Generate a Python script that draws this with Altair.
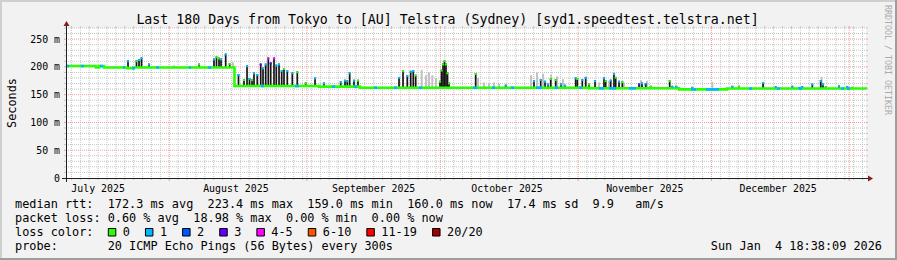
import altair as alt
import numpy as np
import pandas as pd

# ---------------- data ----------------
START = "2025-07-08 18:38:09"
END = "2026-01-04 18:38:09"

# median rtt (ms), step changes: day offset from START -> value
med_day = [0.0, 6.75, 7.43, 8.55, 13.73, 15.08, 37.91, 56.93, 66.15, 117.68, 137.93, 148.73, 180.0]
med_ms = [201.5, 199.0, 201.5, 199.0, 197.5, 199.0, 165.5, 164.5, 162.5, 161.5, 159.5, 161.0, 160.0]

# dark smoke spikes: day offset, top (ms), loss level index of the median at the top
spike_day = [13.95, 15.86, 16.43, 16.99, 18.68, 29.93, 33.3, 33.86, 34.43, 34.88, 35.93, 36.83,
             38.81, 40.05, 40.73, 41.29, 41.85, 42.3, 43.04, 43.81, 44.33, 44.93, 45.52, 46.06,
             46.8, 47.32, 47.93, 48.53, 49.05, 49.79, 50.92, 52.04, 53.93, 56.03, 58.05,
             61.81, 62.78, 63.29, 63.83, 64.8, 65.7,
             74.93, 75.83, 76.79, 77.56, 78.14, 78.68,
             84.15, 84.49, 84.83, 85.16, 85.5, 85.84, 86.18,
             92.18, 98.93, 105.3, 106.81, 107.78, 108.45, 109.06, 110.18, 111.38, 112.28,
             114.68, 115.04, 116.17, 116.93, 117.68, 119.03, 121.05, 121.43, 122.56, 123.3,
             123.68, 124.43, 125.17, 128.93, 129.6, 130.43, 131.56,
             135.83, 136.42, 137.32, 140.92, 149.92, 151.43, 156.83, 159.68, 163.42, 164.93,
             165.67, 167.92, 169.81, 170.33, 170.93, 173.93, 175.79, 176.92]
spike_top = [212, 212, 214, 217, 206, 206, 215, 219, 217, 215, 224, 207,
             187, 178, 203, 180, 178, 190, 187, 206, 199, 206, 217, 208,
             217, 204, 206, 194, 198, 194, 190, 192, 172, 181, 172,
             174, 177, 176, 190, 177, 177,
             182, 194, 185, 193, 194, 186,
             175, 195, 206, 212, 206, 190, 172,
             189, 168, 176, 178, 175, 170, 180, 178, 170, 168,
             181, 180, 178, 182, 170, 176, 181, 176, 177, 189,
             182, 175, 174, 170, 172, 170, 166,
             176, 166, 166, 164, 166, 166, 173, 165, 166, 164,
             165, 170, 176, 170, 165, 167, 165, 164]
spike_loss = [1, 0, 1, 1, 1, 0, 1, 0, 0, 1, 1, 0,
              1, 0, 1, 1, 0, 1, 1, 3, 1, 1, 4, 3,
              4, 1, 1, 1, 0, 1, 1, 0, 0, 1, 1,
              1, 1, 1, 1, 1, 0,
              1, 0, 1, 1, 1, 0,
              0, 0, 0, 0, 0, 0, 0,
              0, 1, 1, 1, 1, 1, 0, 0, 1, 1,
              1, 0, 1, 1, 0, 1, 1, 0, 1, 1,
              0, 1, 0, 3, 1, 2, 0,
              0, 1, 1, 1, 1, 0, 1, 1, 1, 1,
              1, 1, 1, 1, 0, 1, 1, 0]

# light smoke: day offset, top (ms)
smoke_day = [24.3, 37.58, 80.03, 81.0, 81.68, 82.42, 83.25, 92.7, 94.05, 95.18, 96.3, 97.43,
             104.63, 105.98, 107.33, 109.13, 110.48, 111.83, 119.93, 122.18, 125.55, 129.38,
             130.73, 145.42, 170.03]
smoke_top = [203, 208, 195, 185, 190, 185, 180, 180, 172, 170, 172, 170,
             185, 190, 188, 186, 183, 178, 172, 175, 172, 176,
             175, 173, 182]

# stretches of the median drawn in the "1 lost" colour
cyan_from = [0.0, 3.38, 7.65, 12.83, 14.85, 20.25, 27.68, 31.95, 43.88, 51.53, 59.85, 64.8,
             69.3, 73.8, 79.43, 91.58, 95.85, 100.13, 105.75, 110.03, 115.43, 119.93, 122.18,
             126.68, 140.63, 144.0, 153.68, 159.98, 164.93, 174.38, 175.73]
cyan_to = [0.68, 4.05, 8.33, 13.28, 15.53, 20.93, 28.13, 32.63, 44.55, 52.43, 60.53, 65.48,
           69.98, 74.48, 80.1, 92.48, 96.53, 100.8, 107.1, 110.7, 116.1, 121.05, 123.75,
           128.25, 141.75, 146.93, 154.35, 160.65, 165.6, 175.05, 176.4]

loss_labels = ["0", "1", "2", "3", "4-5", "6-10", "11-19", "20/20"]
loss_colors = ["#26ff00", "#00b8ff", "#0059ff", "#5e00ff", "#ff00ff", "#ff5500", "#ff0000", "#a10000"]

y_ticks = [0, 50, 100, 150, 200, 250]
y_labels = ["0  ", "50 m", "100 m", "150 m", "200 m", "250 m"]
x_labels = ["July 2025", "August 2025", "September 2025", "October 2025", "November 2025", "December 2025"]

title_text = "Last 180 Days from Tokyo to [AU] Telstra (Sydney) [syd1.speedtest.telstra.net]"
stat_rtt = "median rtt:  172.3 ms avg  223.4 ms max  159.0 ms min  160.0 ms now  17.4 ms sd  9.9   am/s"
stat_loss = "packet loss: 0.60 % avg  18.98 % max  0.00 % min  0.00 % now"
loss_title = "loss color:"
probe_text = "probe:       20 ICMP Echo Pings (56 Bytes) every 300s"
stamp_text = "Sun Jan  4 18:38:09 2026"
watermark = "RRDTOOL / TOBI OETIKER"
y_title = "Seconds"

# ---------------- helpers ----------------
NB = "\u00a0"
def nb(s):
    return s.replace(" ", NB)

t0 = pd.Timestamp(START)
t1 = pd.Timestamp(END)

def ms(ts):
    return int(pd.Timestamp(ts).value // 10**6)

def day_ms(d):
    return ms(t0 + pd.to_timedelta(d, unit="D"))

md = np.array(med_day)
mv = np.array(med_ms)
def base_at(d):
    return float(mv[np.searchsorted(md, d, side="right") - 1])

W, H = 800, 150
FONT = "DejaVu Sans Mono"
GRID = "#c4c4c4"
MGRID = "#ef9c9c"
AXC = "#1f1f1f"
ARROW = "#801f1f"

xs = alt.Scale(type="utc", domain=[ms(t0), ms(t1)])
ys = alt.Scale(domain=[0, 270], nice=False, zero=False)

def X(f):
    return alt.X(f, type="temporal", scale=xs, axis=None)

def Y(f):
    return alt.Y(f, type="quantitative", scale=ys, axis=None)

ONE = pd.DataFrame({"k": [0]})

month_starts = [ms(t) for t in pd.date_range("2025-08-01", "2026-01-01", freq="MS")]
label_pos = [ms(t + pd.Timedelta(days=15)) for t in pd.date_range("2025-07-01", "2025-12-01", freq="MS")]
minor_days = [ms(t) for t in pd.date_range("2025-07-10", "2026-01-04", freq="2D")]
minor_days = [m for m in minor_days if m not in month_starts]
minor_v = [v for v in range(10, 271, 10) if v % 50]
major_v = [50, 100, 150, 200, 250]

vmin = pd.DataFrame({"t": minor_days})
vmaj = pd.DataFrame({"t": month_starts})
hmin = pd.DataFrame({"v": minor_v})
hmaj = pd.DataFrame({"v": major_v})

layers = []
dash = [1, 1]

# minor grid
layers.append(alt.Chart(vmin).mark_rule(stroke=GRID, strokeDash=dash, strokeWidth=1).encode(
    x=X("t"), y=alt.value(0), y2=alt.value(H)))
layers.append(alt.Chart(vmin).mark_rule(stroke=GRID, strokeWidth=1).encode(
    x=X("t"), y=alt.value(H), y2=alt.value(H + 2)))
layers.append(alt.Chart(vmin).mark_rule(stroke=GRID, strokeWidth=1).encode(
    x=X("t"), y=alt.value(-2), y2=alt.value(0)))
layers.append(alt.Chart(hmin).mark_rule(stroke=GRID, strokeDash=dash, strokeWidth=1).encode(
    y=Y("v"), x=alt.value(0), x2=alt.value(W)))
layers.append(alt.Chart(hmin).mark_rule(stroke=GRID, strokeWidth=1).encode(
    y=Y("v"), x=alt.value(-2), x2=alt.value(0)))
layers.append(alt.Chart(hmin).mark_rule(stroke=GRID, strokeWidth=1).encode(
    y=Y("v"), x=alt.value(W), x2=alt.value(W + 2)))

# major grid
layers.append(alt.Chart(vmaj).mark_rule(stroke=MGRID, strokeDash=dash, strokeWidth=1).encode(
    x=X("t"), y=alt.value(0), y2=alt.value(H)))
layers.append(alt.Chart(vmaj).mark_rule(stroke=MGRID, strokeWidth=1).encode(
    x=X("t"), y=alt.value(H), y2=alt.value(H + 3)))
layers.append(alt.Chart(vmaj).mark_rule(stroke=MGRID, strokeWidth=1).encode(
    x=X("t"), y=alt.value(-2), y2=alt.value(0)))
layers.append(alt.Chart(hmaj).mark_rule(stroke=MGRID, strokeDash=dash, strokeWidth=1).encode(
    y=Y("v"), x=alt.value(0), x2=alt.value(W)))
layers.append(alt.Chart(hmaj).mark_rule(stroke=MGRID, strokeWidth=1).encode(
    y=Y("v"), x=alt.value(-2), x2=alt.value(0)))
layers.append(alt.Chart(hmaj).mark_rule(stroke=MGRID, strokeWidth=1).encode(
    y=Y("v"), x=alt.value(W), x2=alt.value(W + 2)))

# data
med_df = pd.DataFrame({"t": [day_ms(d) for d in med_day], "v": med_ms})
spk = pd.DataFrame({
    "t": [day_ms(d) for d in spike_day],
    "top": spike_top,
    "base": [base_at(d) for d in spike_day],
    "c": [loss_colors[i] for i in spike_loss],
})
spk["cap"] = spk["top"] - 3.5
smk = pd.DataFrame({
    "t": [day_ms(d) for d in smoke_day],
    "top": smoke_top,
    "base": [base_at(d) for d in smoke_day],
})
cy = pd.DataFrame({
    "t0": [day_ms(d) for d in cyan_from],
    "t1": [day_ms(d) for d in cyan_to],
    "v": [base_at(d) for d in cyan_from],
})

layers.append(alt.Chart(smk).mark_rule(stroke="#c2c2c2", strokeWidth=2).encode(
    x=X("t"), y=Y("base"), y2="top"))
layers.append(alt.Chart(spk).mark_rule(stroke="#151515", strokeWidth=1.7).encode(
    x=X("t"), y=Y("base"), y2="top"))
layers.append(alt.Chart(med_df).mark_line(interpolate="step-after", stroke=loss_colors[0], strokeWidth=2.6).encode(
    x=X("t"), y=Y("v")))
layers.append(alt.Chart(cy).mark_rule(stroke=loss_colors[1], strokeWidth=2.6).encode(
    x=X("t0"), x2="t1", y=Y("v")))
layers.append(alt.Chart(spk).mark_rule(strokeWidth=2.2).encode(
    x=X("t"), y=Y("cap"), y2="top", stroke=alt.Stroke("c:N", scale=None)))

# axis labels, placed with the chart's own scales
xl = pd.DataFrame({"t": label_pos, "s": [nb(s) for s in x_labels]})
yl = pd.DataFrame({"v": y_ticks, "s": [nb(s) for s in y_labels]})
layers.append(alt.Chart(xl).mark_text(font=FONT, fontSize=9.9, align="center", baseline="alphabetic",
                                      color="#000000").encode(
    x=X("t"), y=alt.value(H + 13.5), text="s:N"))
layers.append(alt.Chart(yl).mark_text(font=FONT, fontSize=9.9, align="right", baseline="middle",
                                      color="#000000", dy=0.5).encode(
    y=Y("v"), x=alt.value(-6), text="s:N"))

# axis lines and arrows
layers.append(alt.Chart(ONE).mark_rule(stroke=AXC, strokeWidth=1).encode(
    x=alt.value(-4), x2=alt.value(W + 4), y=alt.value(H + 0.5)))
layers.append(alt.Chart(ONE).mark_rule(stroke=AXC, strokeWidth=1).encode(
    x=alt.value(0.5), y=alt.value(H + 4), y2=alt.value(-4)))
layers.append(alt.Chart(ONE).mark_point(shape="M-1,-1.2L1,0L-1,1.2Z", filled=True, fill=ARROW,
                                        size=25, opacity=1, strokeWidth=0).encode(
    x=alt.value(W + 4.5), y=alt.value(H + 0.5)))
layers.append(alt.Chart(ONE).mark_point(shape="M-1.2,1L0,-1L1.2,1Z", filled=True, fill=ARROW,
                                        size=25, opacity=1, strokeWidth=0).encode(
    x=alt.value(0.5), y=alt.value(-4.5)))

# frame (3D shade)
def rect(x1, x2, y1, y2, col):
    return alt.Chart(ONE).mark_rect(fill=col).encode(
        x=alt.value(x1), x2=alt.value(x2), y=alt.value(y1), y2=alt.value(y2))

layers.append(rect(-66, 831, -28, -26, "#cfcfcf"))
layers.append(rect(-66, -64, -28, 232, "#cfcfcf"))
layers.append(rect(-66, 831, 230, 232, "#9e9e9e"))
layers.append(rect(829, 831, -28, 232, "#9e9e9e"))

# texts
def txt(x, y, s, size=11.85, align="left", color="#000000", angle=0, baseline="alphabetic"):
    return alt.Chart(ONE).mark_text(text=nb(s), font=FONT, fontSize=size, align=align,
                                    baseline=baseline, color=color, angle=angle).encode(
        x=alt.value(x), y=alt.value(y))

layers.append(txt(381.5, -4, title_text, size=13.25, align="center"))
layers.append(txt(-54.5, 75, y_title, size=11.85, align="center", angle=270, baseline="middle"))
layers.append(txt(821, 32, watermark, size=8.3, align="center", angle=90, baseline="middle", color="#aaaaaa"))
layers.append(txt(-51, 180, stat_rtt))
layers.append(txt(-51, 194, stat_loss))
layers.append(txt(-51, 208, loss_title))
layers.append(txt(-51, 222, probe_text))
layers.append(txt(816, 222, stamp_text, align="right"))

# loss colour legend
CW = 7.14
sx = 108.3 - 66
for lab, col in zip(loss_labels, loss_colors):
    layers.append(alt.Chart(ONE).mark_rect(fill=col, stroke="#000000", strokeWidth=1).encode(
        x=alt.value(sx), x2=alt.value(sx + 7.5), y=alt.value(200.5), y2=alt.value(208)))
    layers.append(txt(sx + 14.5, 208, lab))
    sx += 30 + CW * len(lab)

chart = alt.layer(*layers).properties(
    width=W, height=H,
    padding={"left": 66, "top": 28, "right": 31, "bottom": 82},
    autosize=alt.AutoSizeParams(type="none"),
).configure(background="#f2f2f2").configure_view(fill="white", strokeWidth=0)

chart.save("out.html", embed_options={"renderer": "svg", "actions": False})
